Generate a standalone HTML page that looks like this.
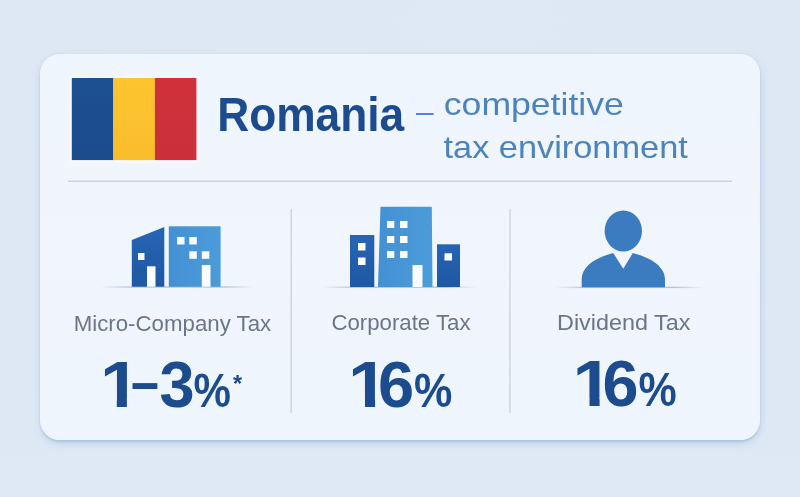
<!DOCTYPE html>
<html lang="en">
<head>
<meta charset="utf-8">
<title>Romania – competitive tax environment</title>
<style>
  html, body { margin: 0; padding: 0; }
  body {
    width: 800px; height: 497px; overflow: hidden; position: relative;
    background: #dee8f4;
    font-family: "Liberation Sans", sans-serif;
  }
  .bg {
    position: absolute; left: 0; top: 0; width: 800px; height: 497px;
    background:
      radial-gradient(ellipse 700px 300px at 60% 0%, rgba(225,235,246,0.5), rgba(225,235,246,0) 100%),
      linear-gradient(180deg, #dde7f4 0%, #dee9f5 100%);
  }
  .card {
    position: absolute; left: 40px; top: 54.4px; width: 720.3px; height: 385.8px;
    border-radius: 20px;
    background: linear-gradient(180deg, #eff5fc 0%, #f1f6fd 50%, #eff5fd 100%);
    box-shadow: 0 1.5px 2px rgba(140,168,205,0.40), 1px 4px 9px rgba(150,180,215,0.30), 0 1px 5px rgba(200,216,236,0.35);
  }
  svg { position: absolute; left: 0; top: 0; }
  text { font-family: "Liberation Sans", sans-serif; }
</style>
</head>
<body>
<div class="bg"></div>
<div class="card"></div>
<svg width="800" height="497" viewBox="0 0 800 497">
  <defs>
    <filter id="soft" x="-10%" y="-10%" width="120%" height="120%"><feGaussianBlur stdDeviation="1.6"/></filter>
    <linearGradient id="fb" x1="0" x2="0" y1="0" y2="1"><stop offset="0" stop-color="#1d5092"/><stop offset="1" stop-color="#1c4c8b"/></linearGradient>
    <linearGradient id="fy" x1="0" x2="0" y1="0" y2="1"><stop offset="0" stop-color="#fdc530"/><stop offset="1" stop-color="#fabd2c"/></linearGradient>
    <linearGradient id="fr" x1="0" x2="0" y1="0" y2="1"><stop offset="0" stop-color="#d0313b"/><stop offset="1" stop-color="#ca2f3a"/></linearGradient>
    <linearGradient id="lb" x1="0" x2="1" y1="0" y2="0"><stop offset="0" stop-color="#4391d3"/><stop offset="1" stop-color="#4c9bd9"/></linearGradient>
    <linearGradient id="db" x1="0" x2="0" y1="0" y2="1"><stop offset="0" stop-color="#2764b1"/><stop offset="1" stop-color="#1f58a5"/></linearGradient>
    <linearGradient id="gline" x1="0" x2="1" y1="0" y2="0">
      <stop offset="0" stop-color="#9fb0c8" stop-opacity="0"/>
      <stop offset="0.2" stop-color="#9fb0c8" stop-opacity="0.7"/>
      <stop offset="0.8" stop-color="#9fb0c8" stop-opacity="0.7"/>
      <stop offset="1" stop-color="#9fb0c8" stop-opacity="0"/>
    </linearGradient>
  </defs>

  <!-- flag -->
  <g>
    <rect x="70" y="76.5" width="128" height="85.5" fill="#f8fbff" filter="url(#soft)"/>
    <rect x="71.8" y="78" width="41.6" height="82.1" fill="url(#fb)"/>
    <rect x="113.3" y="78" width="41.7" height="82.1" fill="url(#fy)"/>
    <rect x="154.9" y="78" width="41.5" height="82.1" fill="url(#fr)"/>
  </g>

  <!-- heading -->
  <text x="217.2" y="131.1" font-size="48" font-weight="bold" fill="#1c4c8d" textLength="187" lengthAdjust="spacingAndGlyphs">Romania</text>
  <text x="415.9" y="121.9" font-size="30" fill="#5386bf" textLength="17.6" lengthAdjust="spacingAndGlyphs">–</text>
  <text x="443.8" y="115.2" font-size="32" fill="#4d83bd" textLength="180" lengthAdjust="spacingAndGlyphs">competitive</text>
  <text x="443.5" y="158" font-size="32" fill="#4d83bd" textLength="244.3" lengthAdjust="spacingAndGlyphs">tax environment</text>

  <!-- dividers -->
  <rect x="68" y="180.6" width="664" height="1.1" fill="#bfc7d3"/>
  <rect x="290.6" y="209" width="1.1" height="204" fill="#c3cad6"/>
  <rect x="509.4" y="209" width="1.1" height="204" fill="#c3cad6"/>

  <!-- icon 1: micro company -->
  <g>
    <rect x="100" y="286.3" width="155" height="1.4" fill="url(#gline)"/>
    <polygon points="131.8,240 164.3,227 164.3,286.8 131.8,286.8" fill="url(#db)"/>
    <rect x="168.8" y="226.3" width="51.8" height="60.5" fill="url(#lb)"/>
    <rect x="138" y="253" width="6.5" height="7" fill="#fafcff"/>
    <rect x="147" y="266.3" width="8.5" height="20.5" fill="#fafcff"/>
    <rect x="177" y="237" width="7.5" height="7.5" fill="#fafcff"/>
    <rect x="189.3" y="237" width="7.5" height="7.5" fill="#fafcff"/>
    <rect x="189.3" y="251.3" width="7.5" height="7.5" fill="#fafcff"/>
    <rect x="201.8" y="251.3" width="7.5" height="7.5" fill="#fafcff"/>
    <rect x="201.8" y="265" width="8.7" height="21.8" fill="#fafcff"/>
  </g>

  <!-- icon 2: corporate -->
  <g>
    <rect x="322" y="286.5" width="155" height="1.4" fill="url(#gline)"/>
    <rect x="350" y="235" width="24.3" height="52" fill="url(#db)"/>
    <polygon points="380.5,206.8 431.8,206.8 432.5,287 378,287" fill="url(#lb)"/>
    <rect x="437" y="244.3" width="23" height="42.7" fill="url(#db)"/>
    <rect x="358" y="243" width="7.5" height="7.5" fill="#fafcff"/>
    <rect x="358" y="257.5" width="7.5" height="7.5" fill="#fafcff"/>
    <rect x="387" y="221" width="7.3" height="7" fill="#fafcff"/>
    <rect x="400" y="221" width="7.5" height="7" fill="#fafcff"/>
    <rect x="387" y="236" width="7.3" height="7" fill="#fafcff"/>
    <rect x="400" y="236" width="7.5" height="7" fill="#fafcff"/>
    <rect x="387" y="251" width="7.3" height="7" fill="#fafcff"/>
    <rect x="400" y="251" width="7.5" height="7" fill="#fafcff"/>
    <rect x="412.5" y="265" width="10" height="22" fill="#fafcff"/>
    <rect x="444.5" y="253.3" width="7.5" height="7.2" fill="#fafcff"/>
  </g>

  <!-- icon 3: person -->
  <g fill="#3b7bbf">
    <rect x="555" y="286.7" width="150" height="1.4" fill="url(#gline)"/>
    <ellipse cx="623.3" cy="231" rx="18.7" ry="20.5"/>
    <path d="M581.7,287.3 L581.7,279 C581.7,268 593,258 613.2,253 L623.3,268.8 L632.8,253 C653,258 665,268 665,279 L665,287.3 Z"/>
  </g>

  <!-- labels -->
  <text x="73.7" y="331" font-size="22.9" fill="#6b7586" textLength="197.5" lengthAdjust="spacingAndGlyphs">Micro-Company Tax</text>
  <text x="331.5" y="330.3" font-size="22.9" fill="#6b7586" textLength="139" lengthAdjust="spacingAndGlyphs">Corporate Tax</text>
  <text x="557" y="330.3" font-size="22.9" fill="#6b7586" textLength="133.5" lengthAdjust="spacingAndGlyphs">Dividend Tax</text>

  <!-- values -->
  <clipPath id="one"><polygon points="-2,-62 46,-62 46,-8 27,-8 27,2 16.9,2 16.9,-8 -2,-8"/></clipPath>
  <g font-weight="bold" fill="#1c4c8d">
    <g><g transform="translate(99.9,406.6)" clip-path="url(#one)"><text x="0" y="0" font-size="65" textLength="40.4" lengthAdjust="spacingAndGlyphs">1</text></g><text x="131.1" y="401.5" font-size="60" textLength="27.9" lengthAdjust="spacingAndGlyphs">–</text><text x="159.6" y="406.8" font-size="65" textLength="35.1" lengthAdjust="spacingAndGlyphs">3</text><text x="193.4" y="406.8" font-size="49" textLength="37.4" lengthAdjust="spacingAndGlyphs">%</text><text x="232.9" y="391.7" font-size="23.4">*</text></g>
    <g><g transform="translate(348.1,407)" clip-path="url(#one)"><text x="0" y="0" font-size="65" textLength="40.4" lengthAdjust="spacingAndGlyphs">1</text></g><text x="378.1" y="407" font-size="65" textLength="36.2" lengthAdjust="spacingAndGlyphs">6</text><text x="413.9" y="407" font-size="49" textLength="38.4" lengthAdjust="spacingAndGlyphs">%</text></g>
    <g><g transform="translate(572.6,406.3)" clip-path="url(#one)"><text x="0" y="0" font-size="65" textLength="40.4" lengthAdjust="spacingAndGlyphs">1</text></g><text x="602.6" y="406.3" font-size="65" textLength="36.0" lengthAdjust="spacingAndGlyphs">6</text><text x="638.4" y="406.3" font-size="49" textLength="38.2" lengthAdjust="spacingAndGlyphs">%</text></g>
  </g>
</svg>
</body>
</html>
